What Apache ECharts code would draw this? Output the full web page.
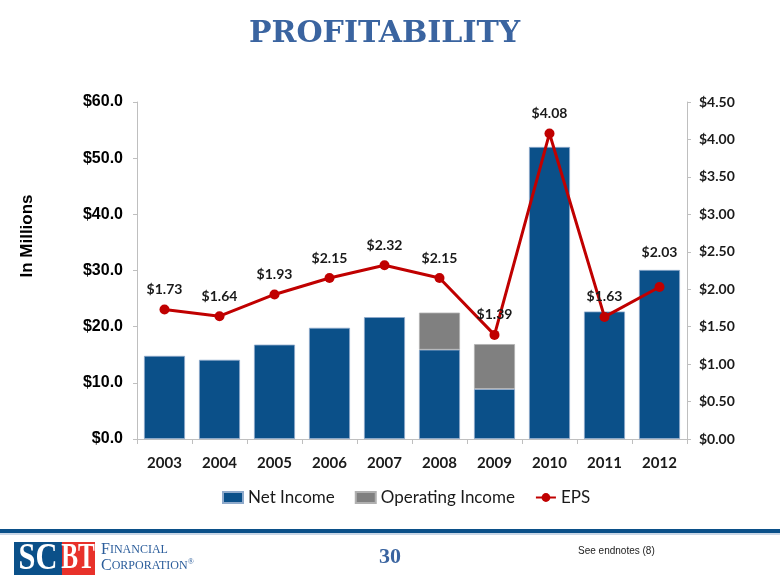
<!DOCTYPE html>
<html>
<head>
<meta charset="utf-8">
<script src="https://cdn.jsdelivr.net/npm/echarts@6/dist/echarts.min.js"></script>
<style>
html,body{margin:0;padding:0;background:#fff;}
#c{width:780px;height:585px;}
</style>
</head>
<body>
<div id="c"></div>
<script>
var years = ['2003','2004','2005','2006','2007','2008','2009','2010','2011','2012'];
var netIncome = [14.8, 14.1, 16.8, 19.8, 21.7, 15.9, 8.9, 52.0, 22.7, 30.1];
var operatingIncomeTotal = [null, null, null, null, null, 22.5, 16.9, null, null, null];
var eps = [1.73, 1.64, 1.93, 2.15, 2.32, 2.15, 1.39, 4.08, 1.63, 2.03];
var leftTicks = [0, 10, 20, 30, 40, 50, 60];
var rightTicks = [0, 0.5, 1, 1.5, 2, 2.5, 3, 3.5, 4, 4.5];

var opExtra = operatingIncomeTotal.map(function (v, i) {
  return v == null ? null : +(v - netIncome[i]).toFixed(2);
});
// the last EPS label sits higher in the original (moved above the bar)
var epsData = eps.map(function (v, i) {
  return i === eps.length - 1 ? {value: v, label: {distance: 22}} : v;
});

var chart = echarts.init(document.getElementById('c'), null, {renderer: 'canvas'});
var axisGray = '#BFBFBF';
chart.setOption({
  animation: false,
  backgroundColor: '#ffffff',
  title: {
    text: 'PROFITABILITY',
    left: 244,
    top: 14,
    textStyle: {fontFamily: 'DejaVu Serif', fontWeight: 'bold', fontSize: 30, color: '#3A64A0'}
  },
  legend: {
    left: 217,
    top: 484,
    itemWidth: 20,
    itemHeight: 11,
    itemGap: 20,
    textStyle: {fontFamily: 'Lato', fontSize: 17, color: '#1a1a1a'},
    data: [
      {name: 'Net Income', icon: 'rect'},
      {name: 'Operating Income', icon: 'rect'},
      {name: 'EPS'}
    ]
  },
  grid: {left: 137, right: 93, top: 102, bottom: 146},
  xAxis: {
    type: 'category',
    data: years,
    axisLine: {lineStyle: {color: axisGray}},
    axisTick: {show: true, length: 5, lineStyle: {color: axisGray}},
    axisLabel: {fontFamily: 'Lato', fontWeight: 'bold', fontSize: 15, color: '#1a1a1a', margin: 17}
  },
  yAxis: [
    {
      type: 'value', min: 0, max: 60, interval: 10,
      axisLine: {show: true, lineStyle: {color: axisGray}},
      axisTick: {show: true, length: 4, lineStyle: {color: axisGray}},
      splitLine: {show: false},
      axisLabel: {
        fontFamily: 'Liberation Sans', fontWeight: 'bold', fontSize: 16, color: '#000', margin: 14,
        formatter: function (v) { return '$' + v.toFixed(1); }
      }
    },
    {
      type: 'value', min: 0, max: 4.5, interval: 0.5,
      position: 'right',
      axisLine: {show: true, lineStyle: {color: axisGray}},
      axisTick: {show: true, length: 4, lineStyle: {color: axisGray}},
      splitLine: {show: false},
      axisLabel: {
        fontFamily: 'Lato', fontWeight: 'bold', fontSize: 14, color: '#1a1a1a', margin: 12,
        formatter: function (v) { return '$' + v.toFixed(2); }
      }
    }
  ],
  series: [
    {
      name: 'Net Income', type: 'bar', stack: 'inc', data: netIncome, barWidth: 41,
      itemStyle: {color: '#0B5089', borderColor: '#8FAACB', borderWidth: 0.8}
    },
    {
      name: 'Operating Income', type: 'bar', stack: 'inc', data: opExtra, barWidth: 41,
      itemStyle: {color: '#808080', borderColor: '#B0B0B0', borderWidth: 0.8}
    },
    {
      name: 'EPS', type: 'line', yAxisIndex: 1, data: epsData,
      symbol: 'circle', symbolSize: 10,
      lineStyle: {color: '#C00000', width: 3},
      itemStyle: {color: '#C00000'},
      label: {
        show: true, position: 'top', distance: 8,
        fontFamily: 'Lato', fontWeight: 'bold', fontSize: 14, color: '#1a1a1a',
        formatter: function (p) { return '$' + p.value.toFixed(2); }
      },
      z: 5
    }
  ],
  graphic: [
    {type: 'text', rotation: Math.PI / 2, x: 27, y: 236,
      style: {text: 'In Millions', align: 'center', verticalAlign: 'middle',
        font: 'bold 17px "Liberation Sans"', fill: '#000'}},
    {type: 'rect', shape: {x: 0, y: 529, width: 780, height: 4}, style: {fill: '#0B5089'}},
    {type: 'rect', shape: {x: 0, y: 533, width: 780, height: 2}, style: {fill: '#C9D6E6'}},
    {type: 'rect', shape: {x: 14, y: 542, width: 48, height: 33}, style: {fill: '#0B5089'}},
    {type: 'rect', shape: {x: 62, y: 542, width: 33, height: 33}, style: {fill: '#E8312A'}},
    {type: 'text', x: 38, y: 559, scaleX: 0.8,
      style: {text: 'SC', align: 'center', verticalAlign: 'middle',
        font: 'bold 38px "Liberation Serif"', fill: '#ffffff'}},
    {type: 'text', x: 78, y: 559, scaleX: 0.7,
      style: {text: 'BT', align: 'center', verticalAlign: 'middle',
        font: 'bold 36px "Liberation Serif"', fill: '#ffffff'}},
    {type: 'text', x: 101, y: 550,
      style: {text: '{a|F}{b|INANCIAL}', verticalAlign: 'middle',
        rich: {a: {fontFamily: 'Liberation Serif', fontSize: 16, fill: '#2B5D9B', color: '#2B5D9B'},
               b: {fontFamily: 'Liberation Serif', fontSize: 12, fill: '#2B5D9B', color: '#2B5D9B'}}}},
    {type: 'text', x: 101, y: 566,
      style: {text: '{a|C}{b|ORPORATION}{c|\u00AE}', verticalAlign: 'middle',
        rich: {a: {fontFamily: 'Liberation Serif', fontSize: 16, fill: '#2B5D9B', color: '#2B5D9B'},
               b: {fontFamily: 'Liberation Serif', fontSize: 12, fill: '#2B5D9B', color: '#2B5D9B'},
               c: {fontFamily: 'Liberation Serif', fontSize: 8, fill: '#2B5D9B', color: '#2B5D9B', verticalAlign: 'top'}}}},
    {type: 'text', x: 390, y: 557,
      style: {text: '30', align: 'center', verticalAlign: 'middle',
        font: 'bold 22px "Liberation Serif"', fill: '#3A64A0'}},
    {type: 'text', x: 578, y: 551,
      style: {text: 'See endnotes (8)', verticalAlign: 'middle',
        font: '10px "Liberation Sans"', fill: '#222222'}}
  ]
});
</script>
</body>
</html>
